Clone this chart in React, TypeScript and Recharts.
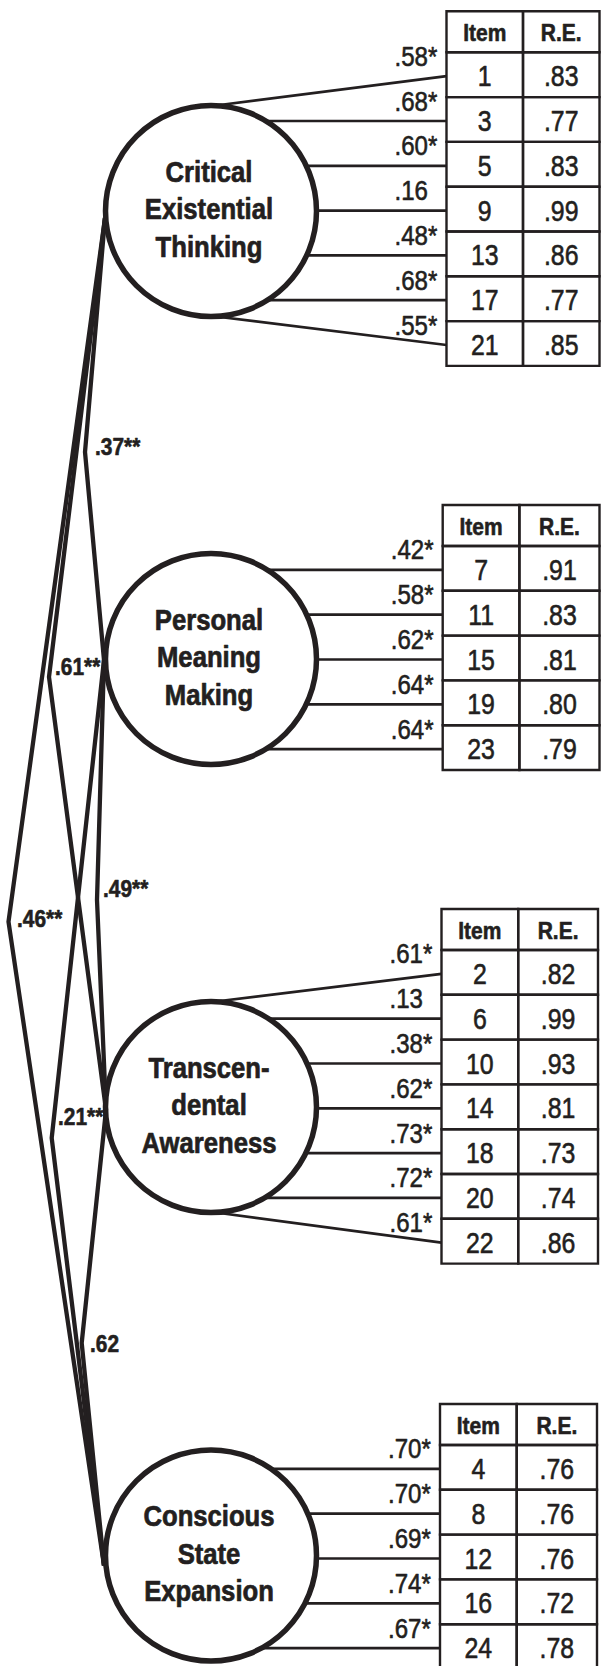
import React from "react";
import { ScatterChart, Scatter, XAxis, YAxis, ReferenceArea } from "recharts";

// ---------------- data ----------------
const factorLabelLines = [
  ["Critical", "Existential", "Thinking"],
  ["Personal", "Meaning", "Making"],
  ["Transcen-", "dental", "Awareness"],
  ["Conscious", "State", "Expansion"],
];

const cetItems = [1, 3, 5, 9, 13, 17, 21];
const cetLoadings = [0.58, 0.68, 0.6, 0.16, 0.48, 0.68, 0.55];
const cetSignificant = [true, true, true, false, true, true, true];
const cetResidualErrors = [0.83, 0.77, 0.83, 0.99, 0.86, 0.77, 0.85];

const pmmItems = [7, 11, 15, 19, 23];
const pmmLoadings = [0.42, 0.58, 0.62, 0.64, 0.64];
const pmmSignificant = [true, true, true, true, true];
const pmmResidualErrors = [0.91, 0.83, 0.81, 0.8, 0.79];

const taItems = [2, 6, 10, 14, 18, 20, 22];
const taLoadings = [0.61, 0.13, 0.38, 0.62, 0.73, 0.72, 0.61];
const taSignificant = [true, false, true, true, true, true, true];
const taResidualErrors = [0.82, 0.99, 0.93, 0.81, 0.73, 0.74, 0.86];

const cseItems = [4, 8, 12, 16, 24];
const cseLoadings = [0.7, 0.7, 0.69, 0.74, 0.67];
const cseSignificant = [true, true, true, true, true];
const cseResidualErrors = [0.76, 0.76, 0.76, 0.72, 0.78];

const tableHeaders = ["Item", "R.E."];

const correlationFrom = [0, 0, 0, 1, 1, 2];
const correlationTo = [1, 2, 3, 2, 3, 3];
const correlationValues = [0.37, 0.61, 0.46, 0.49, 0.21, 0.62];
const correlationStars = ["**", "**", "**", "**", "**", ""];

// ---------------- layout ----------------
const W = 601;
const H = 1666;
const INK = "#231f20";
const FONT = "'Liberation Sans', Arial, Helvetica, sans-serif";

const CX = 211;
const R = 105.5;
const circleCY = [211, 659, 1107, 1555.5];
const anchorX = [105, 104, 106, 104];
const anchorDY = [7, 1, 3, 10];

const tableLeft = [446.5, 442.7, 441.5, 440];
const tableDivider = [523, 519.4, 518.2, 516.7];
const tableRight = [599.5, 599.5, 598, 597];
const headerBottom = [52.3, 546, 950, 1445];
const HEADER_H = 41;
const ROW_H = 44.8;

const corrVertexX = [85, 49, 8.5, 97, 51.7, 81.7];
const corrVertexY = [452, 677, 921.7, 900, 1138, 1343];
const corrLabelX = [95, 55, 17, 103, 58, 90];
const corrLabelBaseline = [455, 675, 926.7, 896.7, 1125, 1351.7];

// ---------------- helpers ----------------
const fmt = (v: number) => v.toFixed(2).replace(/^0/, "");

const blocks = [
  { items: cetItems, loadings: cetLoadings, sig: cetSignificant, re: cetResidualErrors },
  { items: pmmItems, loadings: pmmLoadings, sig: pmmSignificant, re: pmmResidualErrors },
  { items: taItems, loadings: taLoadings, sig: taSignificant, re: taResidualErrors },
  { items: cseItems, loadings: cseLoadings, sig: cseSignificant, re: cseResidualErrors },
];

const rowCenter = (b: number, j: number) => headerBottom[b] + (j + 0.5) * ROW_H;

type Cell = { x1: number; x2: number; y1: number; y2: number };
type Pt = { x: number; y: number; label?: string };

const loadingPolylines: Pt[][] = [];
const tableCells: Cell[] = [];
const circleTextPts: Pt[] = [];
const loadingLabelPts: Pt[] = [];
const headerPts: Pt[] = [];
const valuePts: Pt[] = [];
const circlePts: Pt[] = circleCY.map((cy) => ({ x: CX, y: cy }));

blocks.forEach((blk, b) => {
  const cy = circleCY[b];
  const left = tableLeft[b];
  const div = tableDivider[b];
  const right = tableRight[b];
  const hb = headerBottom[b];

  tableCells.push({ x1: left, x2: div, y1: hb - HEADER_H, y2: hb });
  tableCells.push({ x1: div, x2: right, y1: hb - HEADER_H, y2: hb });
  headerPts.push({ x: (left + div) / 2, y: hb - HEADER_H / 2 + 9.5, label: tableHeaders[0] });
  headerPts.push({ x: (div + right) / 2, y: hb - HEADER_H / 2 + 9.5, label: tableHeaders[1] });

  blk.items.forEach((item, j) => {
    const rc = rowCenter(b, j);
    tableCells.push({ x1: left, x2: div, y1: hb + j * ROW_H, y2: hb + (j + 1) * ROW_H });
    tableCells.push({ x1: div, x2: right, y1: hb + j * ROW_H, y2: hb + (j + 1) * ROW_H });
    valuePts.push({ x: (left + div) / 2, y: rc + 11.5, label: String(item) });
    valuePts.push({ x: (div + right) / 2, y: rc + 11.5, label: fmt(blk.re[j]) });

    const endY = rc + 1.5;
    const dy = endY - cy;
    let sx: number;
    let sy: number;
    if (Math.abs(dy) < R - 6) {
      sx = CX + Math.sqrt(R * R - dy * dy);
      sy = endY;
    } else {
      sx = CX + 5;
      sy = dy < 0 ? cy - R : cy + R;
    }
    loadingPolylines.push([
      { x: sx, y: sy },
      { x: left, y: endY },
    ]);
    loadingLabelPts.push({
      x: left - 52,
      y: rc - 9,
      label: fmt(blk.loadings[j]) + (blk.sig[j] ? "*" : ""),
    });
  });

  factorLabelLines[b].forEach((line, i) => {
    circleTextPts.push({ x: CX - 2, y: cy + 8 + (i - 1) * 37.5, label: line });
  });
});

const corrPolylines: Pt[][] = correlationValues.map((_, k) => {
  const a = correlationFrom[k];
  const c = correlationTo[k];
  return [
    { x: anchorX[a], y: circleCY[a] + anchorDY[a] },
    { x: corrVertexX[k], y: corrVertexY[k] },
    { x: anchorX[c], y: circleCY[c] + anchorDY[c] },
  ];
});

const corrLabelPts: Pt[] = correlationValues.map((v, k) => ({
  x: corrLabelX[k],
  y: corrLabelBaseline[k],
  label: fmt(v) + correlationStars[k],
}));

// ---------------- renderers ----------------
type TextStyle = {
  size: number;
  weight: number;
  sx: number;
  anchor: "start" | "middle" | "end";
  thicken: number;
};

const makeTextShape = (st: TextStyle) => (props: any) => {
  const { cx, cy, payload } = props;
  if (cx == null || cy == null || !payload) return <g />;
  return (
    <text
      transform={`translate(${cx},${cy}) scale(${st.sx},1)`}
      x={0}
      y={0}
      textAnchor={st.anchor}
      fontSize={st.size}
      fontWeight={st.weight}
      fontFamily={FONT}
      fill={INK}
      stroke={INK}
      strokeWidth={st.thicken}
      strokeLinejoin="round"
    >
      {payload.label}
    </text>
  );
};

const makePolyline = (width: number) => (props: any) => {
  const pts: any[] = (props && props.points) || [];
  const d = pts
    .filter((p) => p && p.x != null && p.y != null)
    .map((p) => `${p.x},${p.y}`)
    .join(" ");
  return (
    <polyline
      points={d}
      fill="none"
      stroke={INK}
      strokeWidth={width}
      strokeLinejoin="miter"
      strokeMiterlimit={20}
    />
  );
};

const emptyShape = () => <g />;

const circleShape = (props: any) => {
  const { cx, cy } = props;
  if (cx == null || cy == null) return <g />;
  return <circle cx={cx} cy={cy} r={R} fill="none" stroke={INK} strokeWidth={5.5} />;
};

const corrLine = makePolyline(4.3);
const loadingLine = makePolyline(2.7);

const circleTextShape = makeTextShape({ size: 29.5, weight: 700, sx: 0.87, anchor: "middle", thicken: 0.7 });
const corrLabelShape = makeTextShape({ size: 24, weight: 700, sx: 0.87, anchor: "start", thicken: 0.6 });
const loadingLabelShape = makeTextShape({ size: 28, weight: 400, sx: 0.86, anchor: "start", thicken: 0.6 });
const headerShape = makeTextShape({ size: 23.3, weight: 700, sx: 0.9, anchor: "middle", thicken: 0.6 });
const valueShape = makeTextShape({ size: 30, weight: 400, sx: 0.83, anchor: "middle", thicken: 0.6 });

export default function App() {
  return (
    <div style={{ position: "absolute", left: 0, top: 0, width: W, height: H, background: "#fff" }}>
      <ScatterChart width={W} height={H} margin={{ top: 0, right: 0, bottom: 0, left: 0 }}>
        <XAxis type="number" dataKey="x" domain={[0, W]} allowDataOverflow hide />
        <YAxis type="number" dataKey="y" domain={[0, H]} allowDataOverflow reversed hide />

        {tableCells.map((c, i) => (
          <ReferenceArea
            key={`cell-${i}`}
            x1={c.x1}
            x2={c.x2}
            y1={c.y1}
            y2={c.y2}
            fill="none"
            fillOpacity={0}
            stroke={INK}
            strokeWidth={2.4}
            ifOverflow="visible"
          />
        ))}

        {loadingPolylines.map((pts, i) => (
          <Scatter
            key={`load-${i}`}
            data={pts}
            line={loadingLine}
            lineType="joint"
            shape={emptyShape}
            isAnimationActive={false}
          />
        ))}

        {corrPolylines.map((pts, i) => (
          <Scatter
            key={`corr-${i}`}
            data={pts}
            line={corrLine}
            lineType="joint"
            shape={emptyShape}
            isAnimationActive={false}
          />
        ))}

        <Scatter data={circlePts} shape={circleShape} isAnimationActive={false} />

        <Scatter data={circleTextPts} shape={circleTextShape} isAnimationActive={false} />
        <Scatter data={corrLabelPts} shape={corrLabelShape} isAnimationActive={false} />
        <Scatter data={loadingLabelPts} shape={loadingLabelShape} isAnimationActive={false} />
        <Scatter data={headerPts} shape={headerShape} isAnimationActive={false} />
        <Scatter data={valuePts} shape={valueShape} isAnimationActive={false} />
      </ScatterChart>
    </div>
  );
}
